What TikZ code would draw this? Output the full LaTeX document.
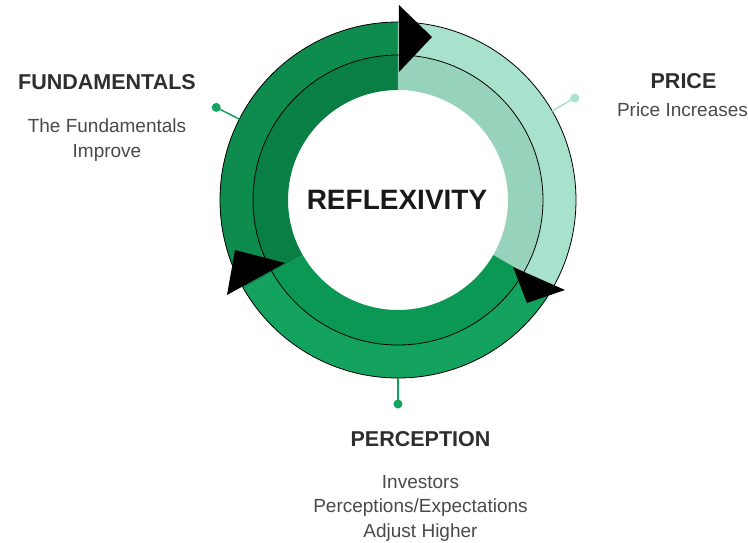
\documentclass[tikz,border=0pt]{standalone}
\usepackage{fontspec}
\setmainfont{Liberation Sans}
\usetikzlibrary{positioning,calc}
\definecolor{fundout}{HTML}{0E8C4D}
\definecolor{fundin}{HTML}{0A7F45}
\definecolor{priceout}{HTML}{A8E2CD}
\definecolor{pricein}{HTML}{97D3BA}
\definecolor{percout}{HTML}{14A35E}
\definecolor{percin}{HTML}{0B9854}
\definecolor{headgray}{HTML}{2E2E2E}
\definecolor{bodygray}{HTML}{4A4A4A}
\tikzset{
    %text styles
    head/.style={font=\bfseries\fontsize{21.5}{26}\selectfont, text=headgray, inner sep=0pt},
    body/.style={font=\fontsize{19}{24.5}\selectfont, text=bodygray, align=center, inner sep=0pt},
    lead/.style={line width=1.5pt},
    tipfill/.style={fill=black}
}
% one band of the ring: colour, start angle, end angle, inner radius, outer radius
\def\ringSeg#1#2#3#4#5{
    \fill[#1] (#2:#4) arc[start angle=#2, end angle=#3, radius=#4]
        -- (#3:#5) arc[start angle=#3, end angle=#2, radius=#5] -- cycle;
}
\begin{document}
\begin{tikzpicture}[x=1pt,y=1pt]
    \useasboundingbox (-398,-342) rectangle (350,200);
    \fill[white] (-398,-342) rectangle (350,200);
    \coordinate (hub) at (0,0);
    % ring
    \foreach \cout/\cin/\a/\b in {fundout/fundin/90/210, priceout/pricein/-30/90, percout/percin/210/330}{
        \ringSeg{\cout}{\a}{\b}{145}{178}
        \ringSeg{\cin}{\a}{\b}{110}{145}
    }
    \draw[line width=0.8pt] (hub) circle[radius=178];
    \draw[line width=0.8pt] (hub) circle[radius=145];
    % leaders
    \foreach \nm/\ang/\col in {fund/153/percout, price/30/priceout, perc/-90/percout}{
        \path (\ang:178) coordinate (rim-\nm) (\ang:204) coordinate (dot-\nm);
        \draw[lead,\col] (rim-\nm) -- (dot-\nm);
        \fill[\col] (dot-\nm) circle[radius=4.5];
    }
    % arrow heads
    \fill[tipfill] (1,195) -- (34,163) -- (1,128) -- cycle;
    \fill[tipfill] (115,-67) -- (167,-90) -- (129,-103) -- cycle;
    \fill[tipfill] (-163,-50) -- (-113,-63) -- (-171,-95) -- cycle;
    % labels (base = last line)
    \node[font=\bfseries\fontsize{28}{32}\selectfont, text=black!90, inner sep=0pt, anchor=base] (title) at (-1,-9) {REFLEXIVITY};
    \node[head, anchor=base] (fundhead) at (-291,111) {FUNDAMENTALS};
    \node[body, anchor=base] (funddesc) at (-291,43) {The Fundamentals\\Improve};
    \node[head, anchor=base] (pricehead) at (285.5,112) {PRICE};
    \node[body, anchor=base] (pricedesc) at (284.5,84) {Price Increases};
    \node[head, anchor=base] (perchead) at (22.5,-246) {PERCEPTION};
    \node[body, anchor=base] (percdesc) at (22.5,-337) {Investors\\Perceptions/Expectations\\Adjust Higher};
\end{tikzpicture}
\end{document}
